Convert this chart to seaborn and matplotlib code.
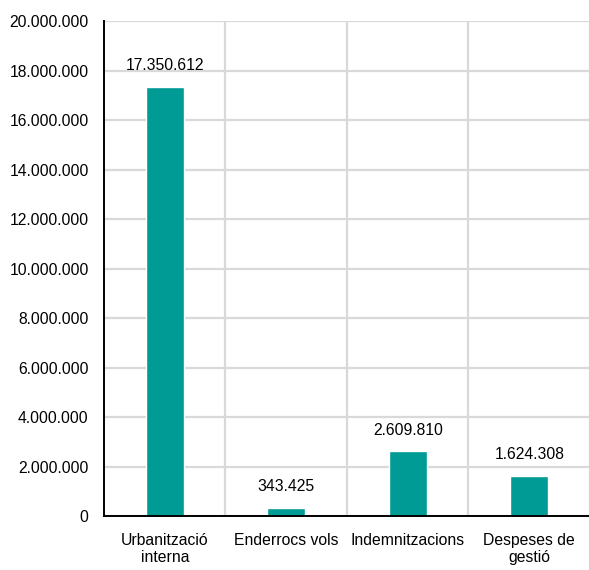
import matplotlib
matplotlib.use("Agg")
import matplotlib.pyplot as plt
import matplotlib.ticker as mticker
import seaborn as sns
import pandas as pd

categories = ["Urbanització\ninterna", "Enderrocs vols", "Indemnitzacions", "Despeses de\ngestió"]
values = [17350612, 343425, 2609810, 1624308]
y_ticks = list(range(0, 20000001, 2000000))

df = pd.DataFrame({"categoria": categories, "import": values})

sns.set_style("white")
plt.rcParams["font.family"] = ["Liberation Sans", "DejaVu Sans"]
plt.rcParams["text.color"] = "black"
plt.rcParams["xtick.color"] = "black"
plt.rcParams["ytick.color"] = "black"
fs = 11.3

fig = plt.figure(figsize=(5.89, 5.70), dpi=100)
ax = fig.add_axes([0.1766, 0.0947, 0.825, 0.868])

sns.barplot(data=df, x="categoria", y="import", color="#009B95",
            width=0.31, saturation=1, ax=ax, zorder=3)

def fmt(v):
    return f"{int(v):,}".replace(",", ".")

ax.set_ylim(0, 20000000)
ax.set_xlim(-0.5, len(categories) - 0.5)
ax.set_yticks(y_ticks)
ax.yaxis.set_major_formatter(mticker.FuncFormatter(lambda v, p: fmt(v)))
ax.set_xticks(range(len(categories)))
ax.set_xticklabels(categories, fontsize=fs, linespacing=1.2)
ax.tick_params(axis="y", labelsize=fs, length=0, pad=11, labelcolor="black")
ax.tick_params(axis="x", length=0, pad=12, labelcolor="black")
ax.set_xlabel("")
ax.set_ylabel("")

# grid: horizontal at major y ticks, vertical at category boundaries
ax.set_xticks([i + 0.5 for i in range(len(categories))], minor=True)
ax.tick_params(axis="x", which="minor", length=0)
ax.grid(axis="y", which="major", color="#d9d9d9", linewidth=1.6, zorder=0)
ax.grid(axis="x", which="minor", color="#d9d9d9", linewidth=1.6, zorder=0)
ax.set_axisbelow(True)

for s in ["top", "right"]:
    ax.spines[s].set_visible(False)
for s in ["left", "bottom"]:
    ax.spines[s].set_color("black")
    ax.spines[s].set_linewidth(1.4)
    ax.spines[s].set_zorder(5)

for i, v in enumerate(values):
    ax.annotate(fmt(v), (i, v), xytext=(0, 10), textcoords="offset points",
                ha="center", va="bottom", fontsize=fs, color="black")

fig.savefig("out.png", dpi=100)
